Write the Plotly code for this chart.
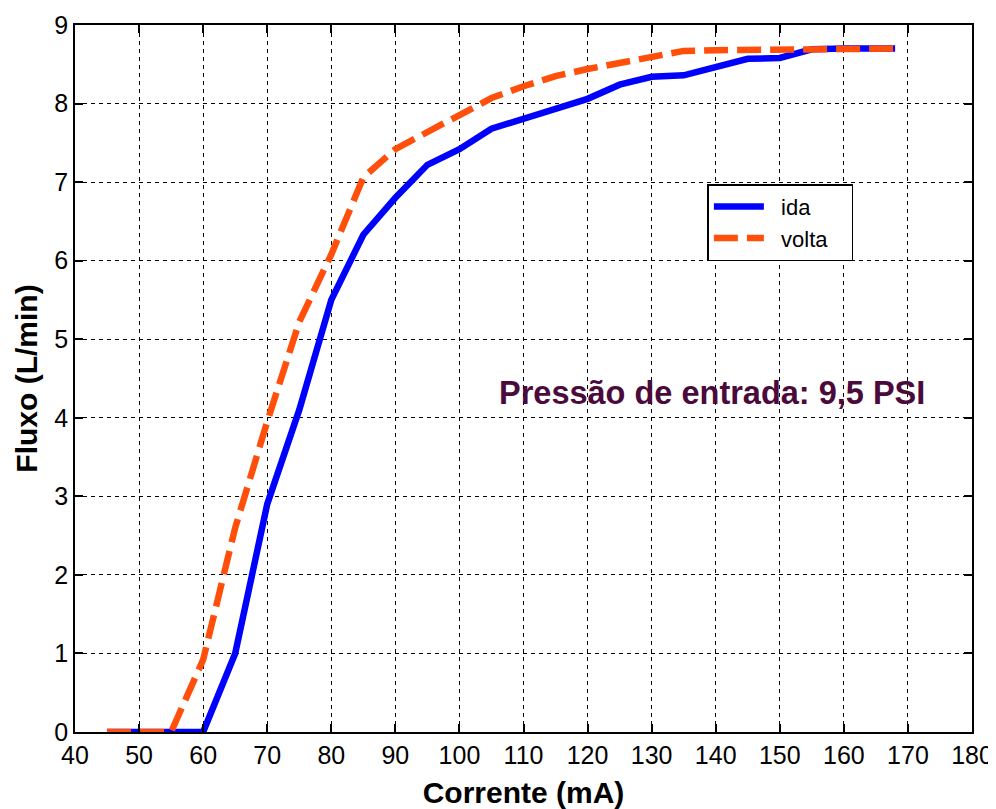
import plotly.graph_objects as go

corrente = [45, 50, 55, 60, 65, 70, 75, 80, 85, 90, 95, 100, 105, 110, 115, 120,
            125, 130, 135, 140, 145, 150, 155, 160, 165, 168]
ida = [0, 0, 0, 0, 1.0, 2.9, 4.1, 5.5, 6.33, 6.8, 7.22, 7.42, 7.68, 7.81, 7.95, 8.06,
       8.24, 8.34, 8.36, 8.46, 8.57, 8.58, 8.69, 8.7, 8.7, 8.7]
volta = [0, 0, 0, 0.92, 2.6, 3.95, 5.22, 6.08, 7.06, 7.42, 7.63, 7.84, 8.07, 8.22, 8.35,
         8.44, 8.52, 8.61, 8.67, 8.68, 8.68, 8.69, 8.7, 8.7, 8.7, 8.7]

x_ticks = list(range(40, 181, 10))
y_ticks = list(range(0, 10, 1))

FONT = "Liberation Sans, Arial"

fig = go.Figure()
fig.add_trace(go.Scatter(x=corrente, y=ida, mode="lines", name="&nbsp;&nbsp;ida",
                         line=dict(color="#0000FF", width=6.5)))
fig.add_trace(go.Scatter(x=corrente, y=volta, mode="lines", name="&nbsp;&nbsp;volta&nbsp;&nbsp;&nbsp;",
                         line=dict(color="#FF4F0A", width=6.5, dash="24px,9px")))

axis_common = dict(
    showline=True, linecolor="black", linewidth=1.5, mirror="ticks",
    ticks="inside", ticklen=8, tickcolor="black", tickwidth=1.5,
    showgrid=True, gridcolor="black", gridwidth=1, griddash="4px,4px",
    zeroline=False, automargin=False,
    tickfont=dict(family=FONT, size=25, color="black"),
)

fig.update_xaxes(range=[40, 180], tickvals=x_ticks, **axis_common,
                 title=dict(text="<b>Corrente (mA)</b>", standoff=14,
                            font=dict(family=FONT, size=30, color="black")))
fig.update_yaxes(range=[0, 9], tickvals=y_ticks, **axis_common,
                 title=dict(text="<b>Fluxo (L/min)</b>", standoff=8,
                            font=dict(family=FONT, size=30, color="black")))

fig.add_annotation(x=139.4, y=4.31, xref="x", yref="y", showarrow=False,
                   text="<b>Pressão de entrada: 9,5 PSI</b>",
                   font=dict(family=FONT, size=32.5, color="#4B0A3C"))

fig.update_layout(
    width=996, height=801,
    margin=dict(l=67, r=32, t=17, b=77),
    plot_bgcolor="white", paper_bgcolor="white",
    legend=dict(x=0.705, y=0.775, xanchor="left", yanchor="top",
                bgcolor="white", bordercolor="black", borderwidth=1.5,
                font=dict(family=FONT, size=22, color="black"),
                itemwidth=50, tracegroupgap=0),
)

fig.write_html("out.html")
